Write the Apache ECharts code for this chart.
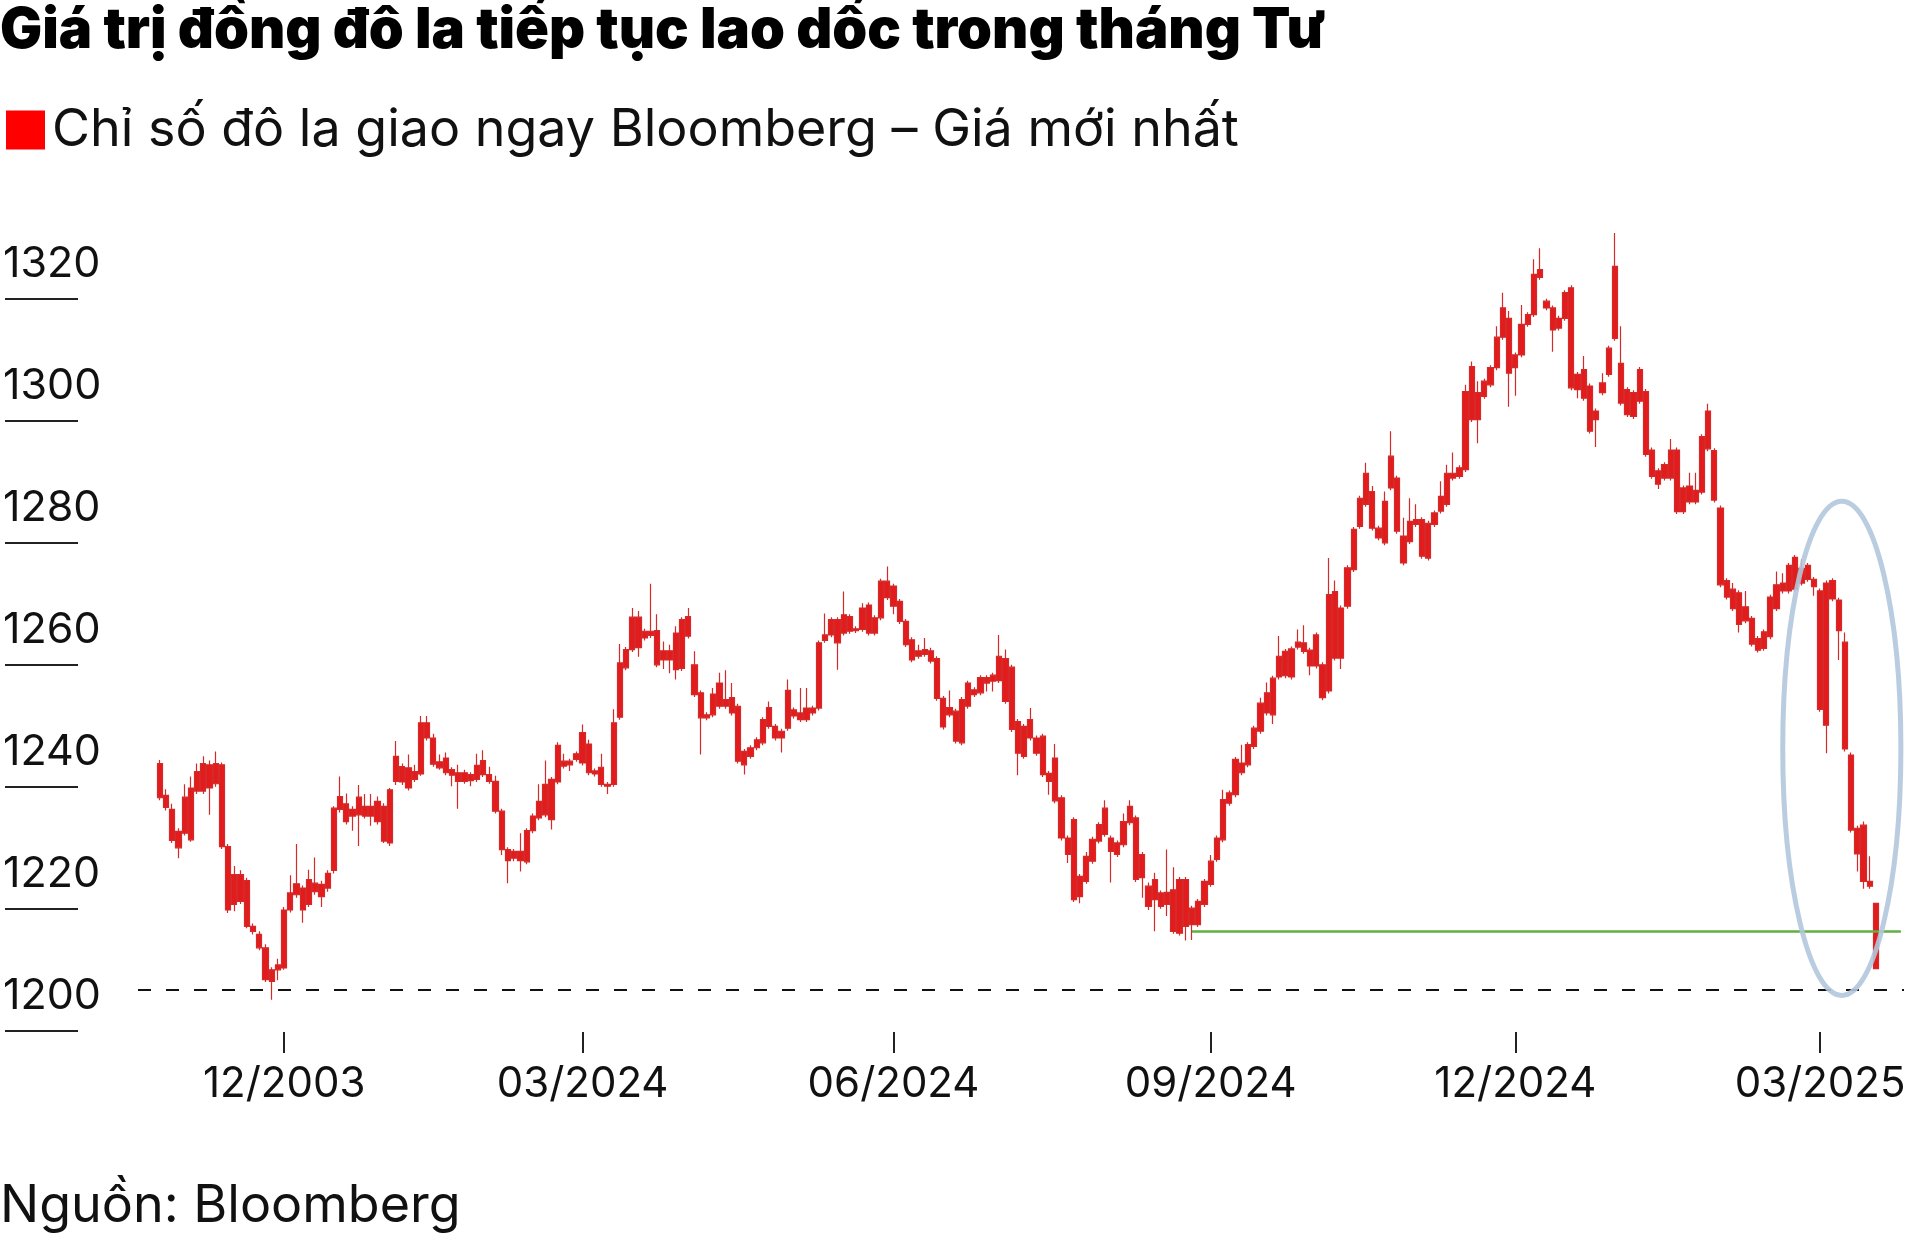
<!DOCTYPE html>
<html><head><meta charset="utf-8">
<script src="https://cdn.jsdelivr.net/npm/echarts@6/dist/echarts.min.js"></script>
<style>html,body{margin:0;padding:0;background:#fff}#chart{width:1920px;height:1243px}</style>
</head><body><div id="chart"></div>
<script>
const titleText = 'Giá trị đồng đô la tiếp tục lao dốc trong tháng Tư';
const sourceText = 'Nguồn: Bloomberg';
const seriesName = 'Chỉ số đô la giao ngay Bloomberg – Giá mới nhất';

// candle body top (open), body bottom (close), wick high, wick low
const opens = [
1237.0,1231.8,1229.5,1225.9,1231.5,1233.0,1235.7,1237.0,1236.8,1237.0,
1236.8,1223.4,1218.8,1218.8,1217.8,1210.3,1209.0,1206.8,1203.2,1204.0,
1213.0,1215.8,1217.3,1216.6,1218.0,1217.4,1217.2,1219.0,1229.7,1231.6,
1230.4,1229.5,1231.5,1230.0,1230.0,1230.8,1230.0,1232.7,1238.2,
1236.5,1236.3,1235.7,1243.7,1243.7,1241.2,1237.3,1237.9,1236.0,1235.5,
1235.5,1235.2,1236.7,1237.5,1235.2,1234.1,1229.2,1222.9,1222.6,1222.6,
1226.0,1228.4,1230.8,1233.6,1234.4,1240.0,1237.4,1237.4,1238.6,1242.1,
1240.2,1235.8,1236.4,1233.6,1243.7,1253.5,1255.7,1261.0,1261.0,1258.7,
1258.7,1258.8,1255.5,1255.5,1258.4,1260.6,1261.1,1253.2,1248.6,1245.0,
1248.4,1250.2,1247.5,1247.8,1246.4,1239.0,1239.6,1240.9,1244.2,1246.2,
1243.1,1242.3,1249.0,1245.8,1245.3,1246.1,1246.1,1256.8,1258.1,1260.6,
1260.6,1261.4,1261.1,1259.1,1262.5,1263.0,1260.9,1266.9,1266.9,1266.1,
1263.6,1260.3,1257.3,1255.5,1255.7,1255.5,1254.2,1247.7,1246.2,1245.6,
1247.5,1250.2,1249.1,1251.1,1251.1,1251.5,1254.6,1254.2,1252.8,1243.9,
1243.1,1244.2,1241.2,1241.5,1235.4,1237.9,1231.4,1224.8,1227.8,1218.5,
1221.8,1224.6,1227.0,1229.7,1224.8,1224.0,1227.5,1230.0,1228.1,1222.1,
1216.9,1218.0,1215.8,1215.9,1216.3,1218.0,1218.0,1213.3,1214.4,1217.7,
1221.0,1224.8,1231.1,1232.2,1237.7,1237.1,1240.1,1242.8,1246.9,1248.6,
1251.0,1254.6,1255.4,1255.8,1256.9,1256.8,1255.6,1258.1,1253.2,1264.7,
1265.2,1262.5,1269.1,1275.4,1280.5,1284.6,1281.6,1275.6,1280.0,1287.4,
1283.8,1274.3,1276.7,1277.0,1277.0,1276.4,1278.1,1280.8,1284.6,1284.6,
1285.5,1298.0,1302.1,1297.8,1299.7,1301.9,1306.9,1311.7,1310.0,1304.0,
1309.0,1310.6,1317.2,1318.0,1312.8,1311.7,1310.0,1314.2,1315.0,1300.8,
1301.6,1298.9,1294.8,1299.4,1305.1,1318.5,1302.6,1298.3,1297.8,1301.6,
1298.0,1288.4,1285.0,1286.0,1288.4,1288.4,1282.2,1282.5,1281.8,1290.6,
1294.8,1288.3,1278.9,1267.0,1265.6,1265.0,1262.7,1260.8,1257.5,1258.6,
1264.3,1266.3,1266.6,1269.5,1270.8,1269.0,1269.5,1267.2,1265.3,1266.6,
1267.0,1263.8,1256.9,1238.4,1226.4,1226.9,1217.7,1214.1
];
const closes = [
1231.4,1229.8,1224.4,1223.2,1225.6,1224.5,1232.5,1232.5,1233.0,1233.7,
1223.4,1213.0,1213.9,1214.4,1210.3,1209.5,1206.8,1201.6,1201.3,1203.2,
1203.5,1213.0,1215.5,1213.0,1213.9,1216.0,1215.2,1216.6,1219.5,1229.5,
1227.5,1228.4,1228.6,1228.4,1228.4,1227.5,1224.3,1224.0,1234.1,
1234.0,1233.0,1234.4,1235.3,1241.2,1236.9,1236.3,1235.5,1235.1,1234.1,
1234.1,1234.2,1234.4,1235.2,1234.1,1229.2,1222.9,1221.1,1221.5,1221.1,
1220.9,1226.0,1228.1,1228.6,1227.8,1234.0,1236.6,1236.8,1237.7,1237.1,
1235.5,1235.3,1233.6,1233.3,1233.6,1244.6,1252.7,1255.7,1256.0,1257.6,
1258.0,1253.2,1254.0,1254.0,1252.4,1252.6,1257.9,1248.3,1244.5,1244.5,
1245.0,1246.4,1246.4,1245.3,1237.4,1236.8,1238.2,1239.6,1240.4,1243.1,
1241.2,1241.2,1242.8,1244.8,1244.2,1244.2,1245.3,1246.1,1257.2,1258.1,
1256.8,1258.4,1258.7,1258.8,1259.0,1258.4,1258.4,1260.9,1264.2,1262.8,
1260.3,1256.5,1254.0,1254.6,1254.9,1253.8,1247.7,1243.0,1245.0,1240.7,
1240.4,1246.4,1248.3,1248.6,1250.2,1250.5,1250.6,1247.2,1242.6,1238.7,
1238.2,1241.2,1238.7,1235.2,1234.1,1230.9,1224.8,1222.1,1214.7,1215.2,
1217.7,1221.0,1224.3,1225.4,1222.6,1222.1,1223.7,1227.3,1218.0,1218.3,
1213.6,1214.7,1213.6,1213.9,1209.5,1209.2,1210.3,1210.6,1210.6,1213.9,
1217.2,1221.3,1224.5,1230.5,1231.9,1235.5,1236.8,1239.8,1242.3,1245.3,
1245.0,1251.2,1251.4,1251.2,1256.1,1255.4,1253.0,1253.0,1247.8,1248.9,
1254.3,1254.3,1262.8,1268.8,1275.9,1279.5,1275.6,1274.0,1273.2,1282.2,
1275.1,1269.9,1273.4,1276.2,1271.0,1270.7,1276.2,1278.4,1279.5,1283.8,
1284.1,1285.2,1293.4,1293.4,1297.2,1299.1,1301.9,1306.9,1301.0,1301.9,
1304.0,1309.0,1310.6,1316.7,1311.7,1308.1,1308.4,1310.0,1298.6,1298.3,
1296.9,1291.5,1293.4,1297.8,1300.8,1306.7,1296.1,1294.2,1293.9,1296.4,
1287.7,1284.1,1282.8,1283.8,1283.8,1278.3,1278.3,1279.9,1279.9,1281.5,
1288.6,1280.2,1266.3,1264.3,1262.4,1259.8,1260.4,1256.6,1255.6,1255.9,
1257.8,1262.4,1265.3,1265.3,1265.6,1266.6,1267.2,1266.0,1245.9,1243.3,
1264.0,1258.8,1239.4,1226.1,1222.2,1217.7,1216.9,1203.4
];
const highs = [
1237.6,1232.8,1230.4,1226.4,1233.6,1234.9,1237.0,1238.2,1237.5,1239.0,
1237.2,1223.8,1220.2,1219.5,1218.3,1210.8,1209.5,1207.4,1203.6,1205.0,
1213.5,1218.7,1223.8,1217.0,1219.6,1221.6,1217.8,1219.5,1230.0,1234.9,
1232.1,1230.0,1233.5,1232.0,1232.0,1231.6,1230.5,1233.0,1240.7,
1237.0,1238.5,1236.8,1244.8,1244.8,1241.9,1238.5,1238.8,1236.4,1236.8,
1236.0,1235.6,1238.6,1239.2,1236.5,1235.0,1229.6,1223.3,1223.0,1225.6,
1226.4,1228.8,1233.6,1237.5,1234.8,1240.5,1238.6,1237.8,1239.0,1243.4,
1240.9,1236.2,1238.6,1234.0,1245.9,1256.6,1256.1,1262.5,1262.0,1259.1,
1266.5,1261.5,1257.0,1256.5,1259.5,1261.0,1262.5,1255.4,1249.0,1245.4,
1249.4,1251.9,1252.3,1250.2,1246.8,1239.4,1240.0,1241.3,1244.6,1247.2,
1243.5,1242.7,1250.8,1246.2,1249.4,1249.4,1246.5,1257.2,1261.6,1261.0,
1261.0,1265.2,1261.5,1259.5,1263.3,1263.4,1261.3,1267.3,1269.3,1266.5,
1264.0,1260.7,1257.7,1256.5,1257.6,1256.0,1254.6,1248.1,1249.0,1246.0,
1247.9,1250.6,1249.5,1251.5,1251.5,1251.9,1258.1,1255.7,1253.2,1244.3,
1243.5,1246.1,1241.6,1241.9,1235.8,1240.2,1231.8,1225.2,1228.2,1218.9,
1222.5,1225.0,1227.4,1231.0,1225.2,1224.4,1228.8,1231.0,1228.5,1222.5,
1217.5,1219.1,1216.2,1222.9,1220.0,1218.4,1218.4,1213.7,1214.8,1218.1,
1222.0,1225.2,1232.7,1232.6,1238.1,1240.1,1240.5,1243.2,1247.8,1250.3,
1251.4,1257.9,1255.8,1256.2,1259.0,1259.7,1256.0,1258.5,1253.6,1270.7,
1267.0,1262.9,1269.5,1275.8,1280.9,1286.3,1282.5,1276.0,1281.6,1291.5,
1284.2,1277.3,1280.5,1279.5,1277.4,1276.8,1278.5,1283.3,1286.0,1288.0,
1285.9,1299.1,1302.9,1299.7,1300.1,1302.3,1308.7,1314.2,1311.2,1304.4,
1312.2,1311.0,1319.7,1321.5,1313.2,1312.1,1310.4,1314.6,1315.4,1301.2,
1303.8,1299.3,1295.2,1301.0,1305.5,1324.0,1308.7,1298.7,1298.2,1302.0,
1298.4,1288.8,1285.4,1286.4,1290.2,1288.8,1282.6,1284.7,1284.7,1291.0,
1296.0,1288.7,1279.3,1267.4,1266.6,1265.4,1265.3,1261.2,1257.9,1259.0,
1264.7,1268.5,1268.2,1269.9,1271.2,1270.5,1269.9,1267.6,1265.7,1267.0,
1267.4,1264.2,1258.5,1238.8,1226.8,1227.5,1221.8,1214.1
];
const lows = [
1231.0,1229.3,1224.0,1221.5,1225.2,1224.2,1232.0,1232.0,1228.6,1233.2,
1223.0,1212.5,1212.8,1214.0,1210.0,1209.0,1206.4,1201.2,1198.3,1201.5,
1203.2,1212.6,1215.0,1210.9,1213.5,1215.5,1213.5,1216.0,1219.0,1229.0,
1227.0,1226.0,1223.5,1228.0,1226.8,1227.0,1224.0,1223.5,1233.5,
1233.5,1232.6,1234.0,1235.0,1240.8,1236.5,1236.0,1235.1,1233.3,1229.6,
1233.7,1233.3,1234.0,1234.8,1233.7,1228.8,1222.0,1217.4,1221.0,1219.3,
1220.5,1225.6,1227.7,1228.2,1226.2,1233.6,1236.2,1235.8,1237.3,1236.7,
1235.1,1234.9,1233.2,1232.0,1233.2,1244.2,1252.3,1255.3,1254.5,1257.2,
1257.6,1252.8,1252.5,1251.8,1250.8,1252.2,1257.5,1247.9,1238.5,1244.1,
1244.6,1246.0,1246.0,1244.9,1237.0,1235.2,1237.8,1239.2,1240.0,1242.7,
1240.8,1238.8,1242.4,1244.4,1243.8,1243.8,1244.9,1245.7,1256.8,1257.7,
1252.4,1258.0,1258.3,1258.4,1258.6,1258.0,1258.0,1260.5,1263.8,1261.5,
1259.9,1256.1,1253.6,1254.2,1254.5,1253.4,1247.3,1242.6,1244.6,1240.3,
1240.0,1246.0,1247.9,1248.2,1248.8,1248.8,1250.2,1246.8,1242.2,1235.1,
1237.8,1240.8,1238.3,1234.8,1231.9,1230.5,1224.4,1220.7,1214.3,1214.1,
1217.3,1220.6,1223.9,1225.0,1217.5,1221.7,1223.3,1226.9,1217.6,1215.0,
1213.0,1209.5,1213.2,1212.0,1209.1,1208.8,1208.0,1208.1,1210.2,1213.5,
1216.8,1220.9,1224.1,1230.1,1231.5,1235.1,1236.4,1239.4,1241.9,1244.9,
1243.5,1250.8,1251.0,1250.8,1255.7,1255.0,1251.5,1252.6,1247.4,1248.5,
1253.9,1252.5,1262.4,1268.4,1275.5,1279.1,1275.2,1273.6,1272.8,1281.8,
1274.7,1269.5,1273.0,1275.8,1270.6,1270.3,1275.8,1278.0,1279.1,1283.4,
1283.7,1284.8,1293.0,1289.5,1296.8,1298.7,1301.5,1306.5,1295.5,1297.3,
1303.6,1308.6,1310.2,1316.3,1311.3,1304.5,1308.0,1309.6,1298.2,1296.9,
1296.5,1291.1,1288.9,1297.4,1300.4,1306.3,1295.7,1293.8,1293.5,1296.0,
1287.3,1283.7,1282.0,1283.4,1283.4,1277.9,1277.9,1279.5,1279.5,1281.1,
1288.2,1279.8,1265.9,1263.9,1262.0,1258.5,1260.0,1256.2,1255.2,1255.5,
1257.4,1262.0,1264.9,1264.9,1265.2,1266.2,1266.8,1264.5,1245.5,1238.7,
1263.6,1254.0,1239.0,1225.7,1219.3,1216.5,1216.5,1203.4
];

// x-axis tick positions (candle index) and their labels, as printed on the original
const tickIndex = [20, 68, 118, 169, 218, 267];
const tickLabels = ['12/2003', '03/2024', '06/2024', '09/2024', '12/2024', '03/2025'];
// y-axis tick values
const yTickMin = 1200, yTickMax = 1320, yTickStep = 20;
// reference levels
const dashedLevel = 1200;
const supportLevel = 1209.5;
const supportStartIndex = 166;
// highlighted zone (candle index range and value range)
const zoneFromIndex = 261, zoneToIndex = 280, zoneTop = 1280, zoneBottom = 1199;

const PAD_L = 3, PAD_R = 4;
const N = opens.length;
const categories = Array.from({length: PAD_L + N + PAD_R}, (_, i) => String(i));
const candleData = [];
for (let i = 0; i < PAD_L; i++) candleData.push('-');
for (let i = 0; i < N; i++) candleData.push([opens[i], closes[i], lows[i], highs[i]]);
for (let i = 0; i < PAD_R; i++) candleData.push('-');
const tickMap = {};
tickIndex.forEach((t, j) => { tickMap[t + PAD_L] = tickLabels[j]; });
const isTick = (idx) => tickMap[idx] !== undefined;

const RED = '#e21c1c';
const FONT = 'Inter';

const chart = echarts.init(document.getElementById('chart'));
chart.setOption({
  animation: false,
  backgroundColor: '#fff',
  textStyle: {fontFamily: FONT},
  title: [
    {text: titleText, left: 0, top: 3, padding: 0,
     textStyle: {fontFamily: FONT, fontWeight: 900, fontSize: 56, color: '#000'}},
    {text: sourceText, left: 0, top: 1180, padding: 0,
     textStyle: {fontFamily: FONT, fontWeight: 400, fontSize: 52, color: '#111'}}
  ],
  legend: {
    left: 6, top: 104, padding: 0, icon: 'rect', itemWidth: 39, itemHeight: 39,
    selectedMode: false,
    data: [{name: seriesName, itemStyle: {color: '#ff0000', borderWidth: 0}}],
    textStyle: {fontFamily: FONT, fontSize: 52, color: '#111', lineHeight: 39, padding: [0, 0, 0, 2]}
  },
  grid: [
    {left: 138, right: 16, top: 178, bottom: 211},
    {left: 5, width: 73, top: 299, height: 732},
    {left: 5, width: 73, top: 264, height: 732}
  ],
  xAxis: [
    {type: 'category', gridIndex: 0, data: categories, boundaryGap: true,
     axisLine: {show: false},
     axisTick: {show: true, alignWithLabel: true, interval: (i) => isTick(i), length: 21,
                lineStyle: {color: '#222', width: 2}},
     axisLabel: {interval: (i) => isTick(i), formatter: (v, i) => tickMap[i] || '',
                 margin: 31, fontSize: 42, color: '#111', fontFamily: FONT},
     splitLine: {show: false}},
    {type: 'value', gridIndex: 1, show: false, min: 0, max: 1},
    {type: 'value', gridIndex: 2, show: false, min: 0, max: 1}
  ],
  yAxis: [
    {type: 'value', gridIndex: 0, min: 1193, max: 1333, show: false, splitLine: {show: false}},
    {type: 'value', gridIndex: 1, min: yTickMin, max: yTickMax, interval: yTickStep,
     axisLine: {show: false}, axisTick: {show: false}, axisLabel: {show: false},
     splitLine: {show: true, lineStyle: {color: '#222', width: 2}}},
    {type: 'value', gridIndex: 2, min: yTickMin, max: yTickMax, interval: yTickStep,
     axisLine: {show: false}, axisTick: {show: false}, splitLine: {show: false},
     axisLabel: {show: true, align: 'left', margin: 2, formatter: (v) => String(v),
                 fontSize: 43, color: '#111', fontFamily: FONT}}
  ],
  series: [{
    type: 'candlestick', name: seriesName, xAxisIndex: 0, yAxisIndex: 0,
    data: candleData, barWidth: '92%',
    itemStyle: {color: RED, color0: RED, borderColor: '#d42a2a', borderColor0: '#d42a2a', borderWidth: 1.2},
    markLine: {
      silent: true, symbol: ['none', 'none'], label: {show: false}, animation: false,
      data: [
        {yAxis: dashedLevel, lineStyle: {color: '#111', type: [13, 15], width: 2}},
        [{coord: [String(supportStartIndex + PAD_L), supportLevel],
          lineStyle: {color: '#5fb043', width: 2.5, type: 'solid'}},
         {coord: [categories[categories.length - 1], supportLevel]}]
      ]
    }
  }]
});

const p1 = chart.convertToPixel({xAxisIndex: 0, yAxisIndex: 0}, [String(zoneFromIndex + PAD_L), zoneTop]);
const p2 = chart.convertToPixel({xAxisIndex: 0, yAxisIndex: 0}, [String(Math.min(zoneToIndex + PAD_L, categories.length - 1)), zoneBottom]);
chart.setOption({
  graphic: [{
    type: 'ellipse', silent: true, z: 100,
    shape: {cx: (p1[0] + p2[0]) / 2, cy: (p1[1] + p2[1]) / 2,
            rx: Math.abs(p2[0] - p1[0]) / 2, ry: Math.abs(p2[1] - p1[1]) / 2},
    style: {fill: 'none', stroke: '#b3c7dc', lineWidth: 5, opacity: 0.9}
  }]
});
</script></body></html>
